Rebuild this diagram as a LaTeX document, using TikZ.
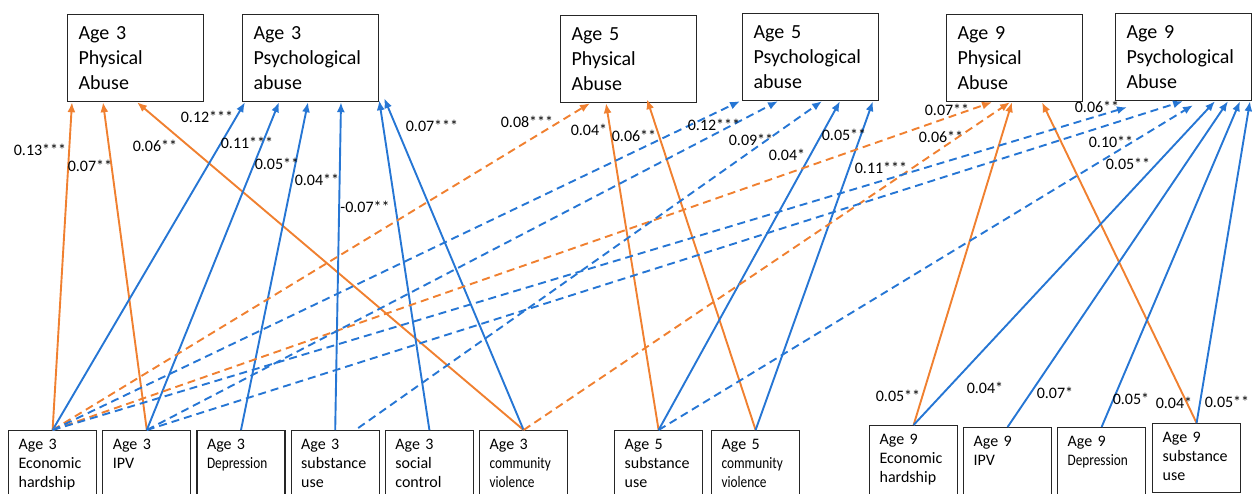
\documentclass[tikz,border=0pt]{standalone}
\usepackage{fontspec}
\setmainfont{Carlito}
\newfontfamily\narrowfont[FakeStretch=0.83]{Carlito}
\usepackage{tikz}
\usetikzlibrary{arrows,arrows.meta,positioning}
\usepackage{xcolor}
\definecolor{physorange}{RGB}{240,128,48}
\definecolor{psyblue}{RGB}{38,118,212}
\tikzstyle{topbox}=[draw=black!85, line width=1.2pt, anchor=north west, align=left, text width=114pt, inner xsep=11pt, minimum height=87pt, font=\fontsize{20}{25}\selectfont]
\tikzstyle{lowbox}=[draw=black!85, line width=1.2pt, anchor=north west, align=left, text width=68pt, inner xsep=10pt, minimum height=69pt, font=\fontsize{16}{19}\selectfont]
\tikzstyle{coef}=[font=\fontsize{16}{19}\selectfont, inner sep=0pt]
\tikzstyle{physline}=[physorange, line width=1.9pt, ->, >={Latex[length=10pt,width=8pt]}]
\tikzstyle{psyline}=[psyblue, line width=1.9pt, ->, >={Latex[length=10pt,width=8pt]}]
\tikzstyle{lagged}=[dash pattern=on 8pt off 5pt]

\begin{document}
\begin{tikzpicture}[x=1pt,y=-1pt]
\useasboundingbox (0,0) rectangle (1252,493);

% outcomes
\node[topbox] (a3phys) at (67,14) {Age 3\\Physical\\Abuse};
\node[topbox] (a3psy) at (242,14) {Age 3\\Psychological\\abuse};
\node[topbox] (a5phys) at (560,15) {Age 5\\Physical\\Abuse};
\node[topbox] (a5psy) at (742,13) {Age 5\\Psychological\\abuse};
\node[topbox] (a9phys) at (946,14) {Age 9\\Physical\\Abuse};
\node[topbox] (a9psy) at (1115,13) {Age 9\\Psychological\\Abuse};

% predictors
\node[lowbox] (a3econ) at (8,430) {\strut Age 3\\Economic\\hardship\strut};
\node[lowbox, right=5pt of a3econ] (a3ipv) {\strut Age 3\\IPV\\\strut};
\node[lowbox, right=5pt of a3ipv] (a3dep) {\strut Age 3\\{\narrowfont Depression}\\\strut};
\node[lowbox, right=5pt of a3dep] (a3sub) {\strut Age 3\\substance\\use\strut};
\node[lowbox, right=5pt of a3sub] (a3soc) {\strut Age 3\\social\\control\strut};
\node[lowbox, right=5pt of a3soc] (a3com) {\strut Age 3\\\narrowfont community\\violence\strut};
\node[lowbox] (a5sub) at (614,430) {\strut Age 5\\substance\\use\strut};
\node[lowbox] (a5com) at (711,430) {\strut Age 5\\\narrowfont community\\violence\strut};
\node[lowbox] (a9econ) at (869,425) {\strut Age 9\\Economic\\hardship\strut};
\node[lowbox] (a9ipv) at (963,427) {\strut Age 9\\IPV\\\strut};
\node[lowbox] (a9dep) at (1057,427) {\strut Age 9\\{\narrowfont Depression}\\\strut};
\node[lowbox] (a9sub) at (1152,423) {\strut Age 9\\substance\\use\strut};

% age 3
\draw[physline] (a3econ.north) -- ([xshift=5pt]a3phys.south west);
\draw[physline] (a3ipv.north) -- ([xshift=36pt]a3phys.south west);
\draw[physline] (a3com.north) -- ([xshift=70pt]a3phys.south west);
\draw[psyline] (a3econ.north) -- ([xshift=3pt]a3psy.south west);
\draw[psyline] (a3ipv.north) -- ([xshift=37pt]a3psy.south west);
\draw[psyline] (a3dep.north) -- ([xshift=66pt]a3psy.south west);
\draw[psyline] (a3sub.north) -- ([xshift=99pt]a3psy.south west);
\draw[psyline] (a3soc.north) -- ([yshift=2pt]a3psy.south east);
\draw[psyline] (a3com.north) -- ([xshift=5pt,yshift=4pt]a3psy.south east);

% age 5
\draw[physline] (a5sub.north) -- ([xshift=46pt]a5phys.south west);
\draw[physline] (a5com.north) -- ([xshift=87pt,yshift=4pt]a5phys.south west);
\draw[psyline] (a5sub.north) -- ([xshift=98pt]a5psy.south west);
\draw[psyline] (a5com.north) -- ([xshift=131pt]a5psy.south west);

% age 9
\draw[physline] (a9econ.north) -- ([xshift=66pt]a9phys.south west);
\draw[physline] (a9sub.north) -- ([xshift=96pt]a9phys.south west);
\draw[psyline] (a9econ.north) -- ([xshift=100pt]a9psy.south west);
\draw[psyline] (a9ipv.north) -- ([xshift=113pt]a9psy.south west);
\draw[psyline] (a9dep.north) -- ([xshift=125pt]a9psy.south west);
\draw[psyline] (a9sub.north) -- ([xshift=135pt]a9psy.south west);

% lagged paths
\draw[physline, lagged] (a3econ.north) -- ([xshift=30pt]a5phys.south west);
\draw[physline, lagged] (a3econ.north) -- ([xshift=46pt]a9phys.south west);
\draw[physline, lagged] (a3com.north) -- ([xshift=64pt]a9phys.south west);
\draw[psyline, lagged] (a3econ.north) -- ([xshift=-2pt]a5psy.south west);
\draw[psyline, lagged] (a3ipv.north) -- ([xshift=36pt]a5psy.south west);
\draw[psyline, lagged] ([xshift=23pt,yshift=2pt]a3sub.north) -- ([xshift=80pt]a5psy.south west);
\draw[psyline, lagged] (a3econ.north) -- ([xshift=12pt,yshift=-6pt]a9psy.south west);
\draw[psyline, lagged] (a3ipv.north) -- ([xshift=68pt]a9psy.south west);
\draw[psyline, lagged] (a5sub.north) -- ([xshift=78pt,yshift=-4pt]a9psy.south west);

% coefficients
\foreach \x/\y/\t [count=\i] in {40/150/0.13***, 90/166/0.07**, 155/146/0.06**, 207/117/0.12***,
    247/143/0.11***, 277/164/0.05**, 317/180/0.04**, 365/207/-0.07**, 432/126/0.07***,
    527/122/0.08***, 589/130/0.04*, 634/136/0.06**, 714/125/0.12***, 751/140/0.09**,
    787/155/0.04*, 844/135/0.05**, 881/168/0.11***, 947/110/0.07**, 941/137/0.06**,
    1097/107/0.06**, 1111/142/0.10**, 1128/164/0.05**, 898/396/0.05**, 985/388/0.04*,
    1055/393/0.07*, 1131/399/0.05*, 1174/403/0.04*, 1227/402/0.05**}
    \node[coef] (w\i) at (\x,\y) {\t};

\end{tikzpicture}
\end{document}
